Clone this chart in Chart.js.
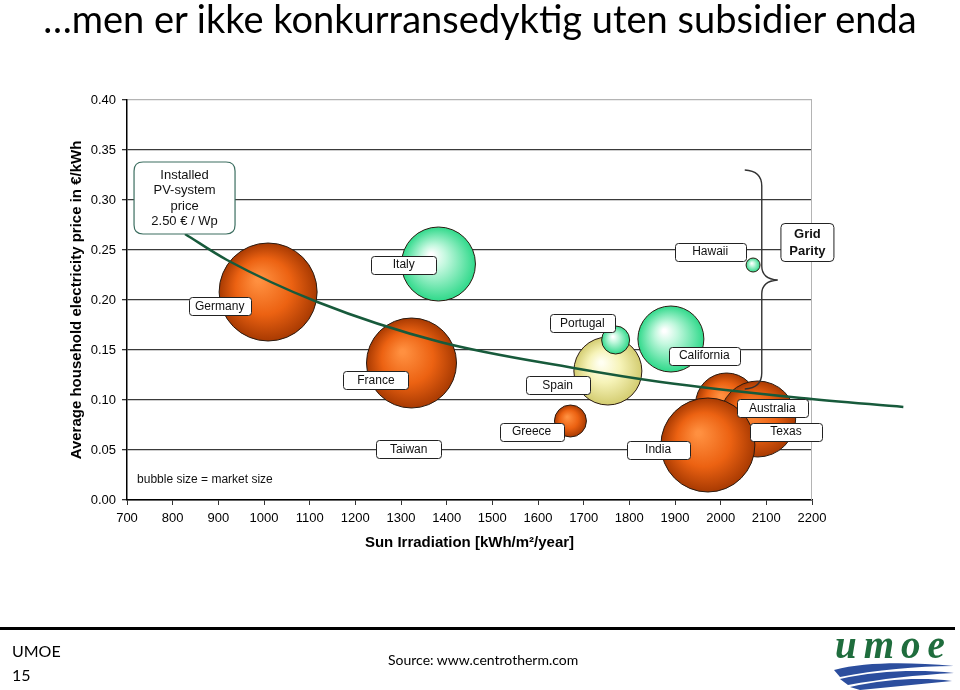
<!DOCTYPE html>
<html>
<head>
<meta charset="utf-8">
<title>Grid parity</title>
<script src="https://cdn.jsdelivr.net/npm/chart.js@4.4.1/dist/chart.umd.min.js"></script>
<style>
  body { margin: 0; background: #fff; }
  .page { position: relative; width: 960px; height: 690px; overflow: hidden; font-family: Lato, "Open Sans", sans-serif; }
  .page canvas { position: absolute; left: 0; top: 0; }
  .headline { position: absolute; left: 0; top: -5px; width: 960px; text-align: center; font-size: 38px; line-height: 46px; color: #000; white-space: nowrap; }
  .rule { position: absolute; left: 0; top: 627px; width: 955px; height: 3px; background: #000; }
  .slide-no { position: absolute; left: 12px; top: 639px; font-size: 16px; line-height: 24px; color: #000; }
  .source { position: absolute; left: 388px; top: 651px; font-size: 14px; color: #000; }
  .logo { position: absolute; left: 826px; top: 630px; }
</style>
</head>
<body>
<div class="page">
  <canvas id="parity" width="960" height="690"></canvas>
  <div class="headline">…men er ikke konkurransedyktig uten subsidier enda</div>
  <div class="rule"></div>
  <div class="slide-no">UMOE<br>15</div>
  <div class="source">Source: www.centrotherm.com</div>
  <svg class="logo" width="134" height="60" viewBox="0 0 134 60">
    <text x="9" y="28" font-family="Liberation Serif, serif" font-style="italic" font-weight="bold" font-size="39" letter-spacing="7" fill="#1f6d3d">umoe</text>
    <path d="M8 40 C 40 32, 80 32, 128 36 C 90 36, 50 40, 14 47 Z" fill="#2c4e9e"/>
    <path d="M14 49 C 50 41, 90 39, 128 43 C 90 45, 55 49, 22 55 Z" fill="#2c4e9e"/>
    <path d="M24 57 C 60 49, 95 47, 126 51 C 95 54, 65 57, 34 60 Z" fill="#2c4e9e"/>
  </svg>
</div>

<script>
// bubbles: one per market
const countries = ['Germany', 'Italy', 'France', 'Taiwan', 'Greece', 'Spain', 'Portugal', 'California', 'Hawaii', 'Australia', 'Texas', 'India'];
const irradiation = [1009, 1382, 1323, 1320, 1671, 1753, 1770, 1891, 2071, 2013, 2081, 1972];
const electricityPrice = [0.208, 0.236, 0.137, 0.050, 0.079, 0.129, 0.160, 0.161, 0.235, 0.096, 0.081, 0.055];
const marketSize = [49, 37, 45, 0, 16, 34, 14, 33, 7, 31, 38, 47];
const bubbleColour = ['orange', 'green', 'orange', 'orange', 'orange', 'yellow', 'green', 'green', 'green', 'orange', 'orange', 'orange'];

// cost curve for 2.50 €/Wp
const curveIrradiation = [827, 919, 1117, 1386, 1678, 1869, 2176, 2400];
const curvePrice = [0.266, 0.240, 0.198, 0.158, 0.132, 0.118, 0.102, 0.093];

const xMin = 700, xMax = 2200, xStep = 100;
const yMin = 0, yMax = 0.40, yStep = 0.05;

const palette = {
  orange: [[0, '#ff9040'], [0.55, '#ec6212'], [1, '#a83a02']],
  green: [[0, '#ffffff'], [0.3, '#c4f8df'], [1, '#2fd98a']],
  yellow: [[0, '#fffff2'], [0.45, '#f6f3b8'], [1, '#d3cc70']]
};

// label boxes (data position of centre, box width in px)
const tags = [
  { text: 'Germany', x: 903, y: 0.194, w: 62 },
  { text: 'Italy', x: 1306, y: 0.2355, w: 65 },
  { text: 'France', x: 1245, y: 0.120, w: 65 },
  { text: 'Taiwan', x: 1317, y: 0.051, w: 65 },
  { text: 'Greece', x: 1586, y: 0.0685, w: 64 },
  { text: 'Spain', x: 1643, y: 0.115, w: 64 },
  { text: 'Portugal', x: 1697, y: 0.177, w: 65 },
  { text: 'California', x: 1964, y: 0.1445, w: 71 },
  { text: 'Hawaii', x: 1977, y: 0.2485, w: 71 },
  { text: 'India', x: 1863, y: 0.0505, w: 63 },
  { text: 'Australia', x: 2113, y: 0.092, w: 71 },
  { text: 'Texas', x: 2143, y: 0.0685, w: 72 }
];

Chart.defaults.font.family = '"Liberation Sans", Arial, sans-serif';
Chart.defaults.color = '#000';

function bubbleFill(c) {
  const flat = palette[bubbleColour[c.dataIndex]] ? palette[bubbleColour[c.dataIndex]][1][1] : '#ec6212';
  if (c.type !== 'data') return flat;
  const i = c.dataIndex;
  const chart = c.chart;
  const px = chart.scales.x.getPixelForValue(irradiation[i]);
  const py = chart.scales.y.getPixelForValue(electricityPrice[i]);
  if (!isFinite(px) || !isFinite(py)) return flat;
  const r = Math.max(marketSize[i], 1);
  const g = chart.ctx.createRadialGradient(px - r * 0.2, py - r * 0.25, r * 0.05, px, py, r);
  palette[bubbleColour[i]].forEach(s => g.addColorStop(s[0], s[1]));
  return g;
}

function roundBox(ctx, x, y, w, h, r) {
  ctx.beginPath();
  ctx.moveTo(x + r, y);
  ctx.lineTo(x + w - r, y);
  ctx.quadraticCurveTo(x + w, y, x + w, y + r);
  ctx.lineTo(x + w, y + h - r);
  ctx.quadraticCurveTo(x + w, y + h, x + w - r, y + h);
  ctx.lineTo(x + r, y + h);
  ctx.quadraticCurveTo(x, y + h, x, y + h - r);
  ctx.lineTo(x, y + r);
  ctx.quadraticCurveTo(x, y, x + r, y);
  ctx.closePath();
}

const frame = {
  id: 'frame',
  beforeDatasetsDraw(chart) {
    const { ctx, chartArea: a } = chart;
    ctx.save();
    ctx.strokeStyle = '#b4b4b4';
    ctx.lineWidth = 1;
    ctx.beginPath();
    ctx.moveTo(a.right - 0.5, a.top);
    ctx.lineTo(a.right - 0.5, a.bottom);
    ctx.stroke();
    ctx.restore();
  }
};

const notes = {
  id: 'notes',
  afterDatasetsDraw(chart) {
    const { ctx } = chart;
    const x = chart.scales.x, y = chart.scales.y;
    ctx.save();

    // country tags
    ctx.font = '12px "Liberation Sans", Arial, sans-serif';
    ctx.textAlign = 'center';
    ctx.textBaseline = 'middle';
    tags.forEach(t => {
      const cx = x.getPixelForValue(t.x), cy = y.getPixelForValue(t.y);
      roundBox(ctx, Math.round(cx - t.w / 2) + 0.5, Math.round(cy - 9) + 0.5, t.w, 18, 3);
      ctx.fillStyle = '#fff';
      ctx.fill();
      ctx.strokeStyle = '#222';
      ctx.lineWidth = 1;
      ctx.stroke();
      ctx.fillStyle = '#111';
      ctx.fillText(t.text, cx, cy + 0.5);
    });

    // installed PV-system price box
    const bx = x.getPixelForValue(826), by = y.getPixelForValue(0.302);
    roundBox(ctx, bx - 50.5, by - 36, 101, 72, 9);
    ctx.fillStyle = '#fff';
    ctx.fill();
    ctx.strokeStyle = '#3c6e60';
    ctx.lineWidth = 1.2;
    ctx.stroke();
    ctx.fillStyle = '#111';
    ctx.font = '13px "Liberation Sans", Arial, sans-serif';
    ['Installed', 'PV-system', 'price', '2.50 € / Wp'].forEach((s, k) => {
      ctx.fillText(s, bx, by - 23 + k * 15.5);
    });

    // brace around the grid parity markets
    const gx = x.getPixelForValue(2090);
    const top = y.getPixelForValue(0.330), mid = y.getPixelForValue(0.220), bot = y.getPixelForValue(0.111);
    ctx.strokeStyle = '#333';
    ctx.lineWidth = 1.4;
    ctx.beginPath();
    ctx.moveTo(gx - 17, top);
    ctx.quadraticCurveTo(gx, top + 1, gx, top + 16);
    ctx.lineTo(gx, mid - 14);
    ctx.quadraticCurveTo(gx, mid - 1, gx + 16, mid);
    ctx.quadraticCurveTo(gx, mid + 1, gx, mid + 14);
    ctx.lineTo(gx, bot - 16);
    ctx.quadraticCurveTo(gx, bot - 1, gx - 17, bot);
    ctx.stroke();

    // grid parity box
    const px = x.getPixelForValue(2190), py = y.getPixelForValue(0.258);
    roundBox(ctx, px - 26.5, py - 18.5, 53, 38, 4);
    ctx.fillStyle = '#fff';
    ctx.fill();
    ctx.strokeStyle = '#222';
    ctx.lineWidth = 1;
    ctx.stroke();
    ctx.fillStyle = '#111';
    ctx.font = 'bold 13px "Liberation Sans", Arial, sans-serif';
    ctx.fillText('Grid', px, py - 8);
    ctx.fillText('Parity', px, py + 9);

    // note
    ctx.font = '12px "Liberation Sans", Arial, sans-serif';
    ctx.textAlign = 'left';
    ctx.fillText('bubble size = market size', x.getPixelForValue(722), y.getPixelForValue(0.020));
    ctx.restore();
  }
};

const ctx = document.getElementById('parity');

new Chart(ctx, {
  type: 'bubble',
  data: {
    labels: countries,
    datasets: [{
      type: 'line',
      label: 'Installed PV-system price 2.50 € / Wp',
      data: curveIrradiation.map((v, i) => ({ x: v, y: curvePrice[i] })),
      borderColor: '#175a3b',
      borderWidth: 2.5,
      pointRadius: 0,
      cubicInterpolationMode: 'monotone',
      fill: false,
      clip: false,
      order: 0
    }, {
      label: 'Market',
      data: irradiation.map((v, i) => ({ x: v, y: electricityPrice[i], r: marketSize[i] })),
      backgroundColor: bubbleFill,
      borderColor: '#2a1a10',
      borderWidth: 1,
      order: 1
    }]
  },
  options: {
    responsive: false,
    animation: false,
    events: [],
    layout: { padding: { left: 62, right: 148, top: 100, bottom: 138 } },
    plugins: { legend: { display: false }, tooltip: { enabled: false } },
    scales: {
      x: {
        type: 'linear',
        min: xMin,
        max: xMax,
        afterFit: s => { s.height = 52; },
        ticks: { stepSize: xStep, padding: 6, font: { size: 13 }, maxRotation: 0, callback: v => v },
        grid: { drawOnChartArea: false, drawTicks: true, tickLength: 5, color: '#333' },
        border: { color: '#000', width: 1.5 },
        title: { display: true, text: 'Sun Irradiation [kWh/m²/year]', font: { size: 15, weight: 'bold' }, padding: { top: 2, bottom: 0 } }
      },
      y: {
        min: yMin,
        max: yMax,
        afterFit: s => { s.width = 65; },
        ticks: { stepSize: yStep, padding: 6, font: { size: 13 }, callback: v => v.toFixed(2) },
        grid: {
          color: c => (c.tick && c.tick.value > 0.39 ? '#b4b4b4' : '#3a3a3a'),
          lineWidth: 1.3,
          tickColor: '#333',
          tickLength: 5
        },
        border: { color: '#000', width: 1.5 },
        title: { display: true, text: 'Average household electricity price in €/kWh', font: { size: 15, weight: 'bold' }, padding: { top: 6, bottom: 0 } }
      }
    }
  },
  plugins: [frame, notes]
});
</script>
</body>
</html>
